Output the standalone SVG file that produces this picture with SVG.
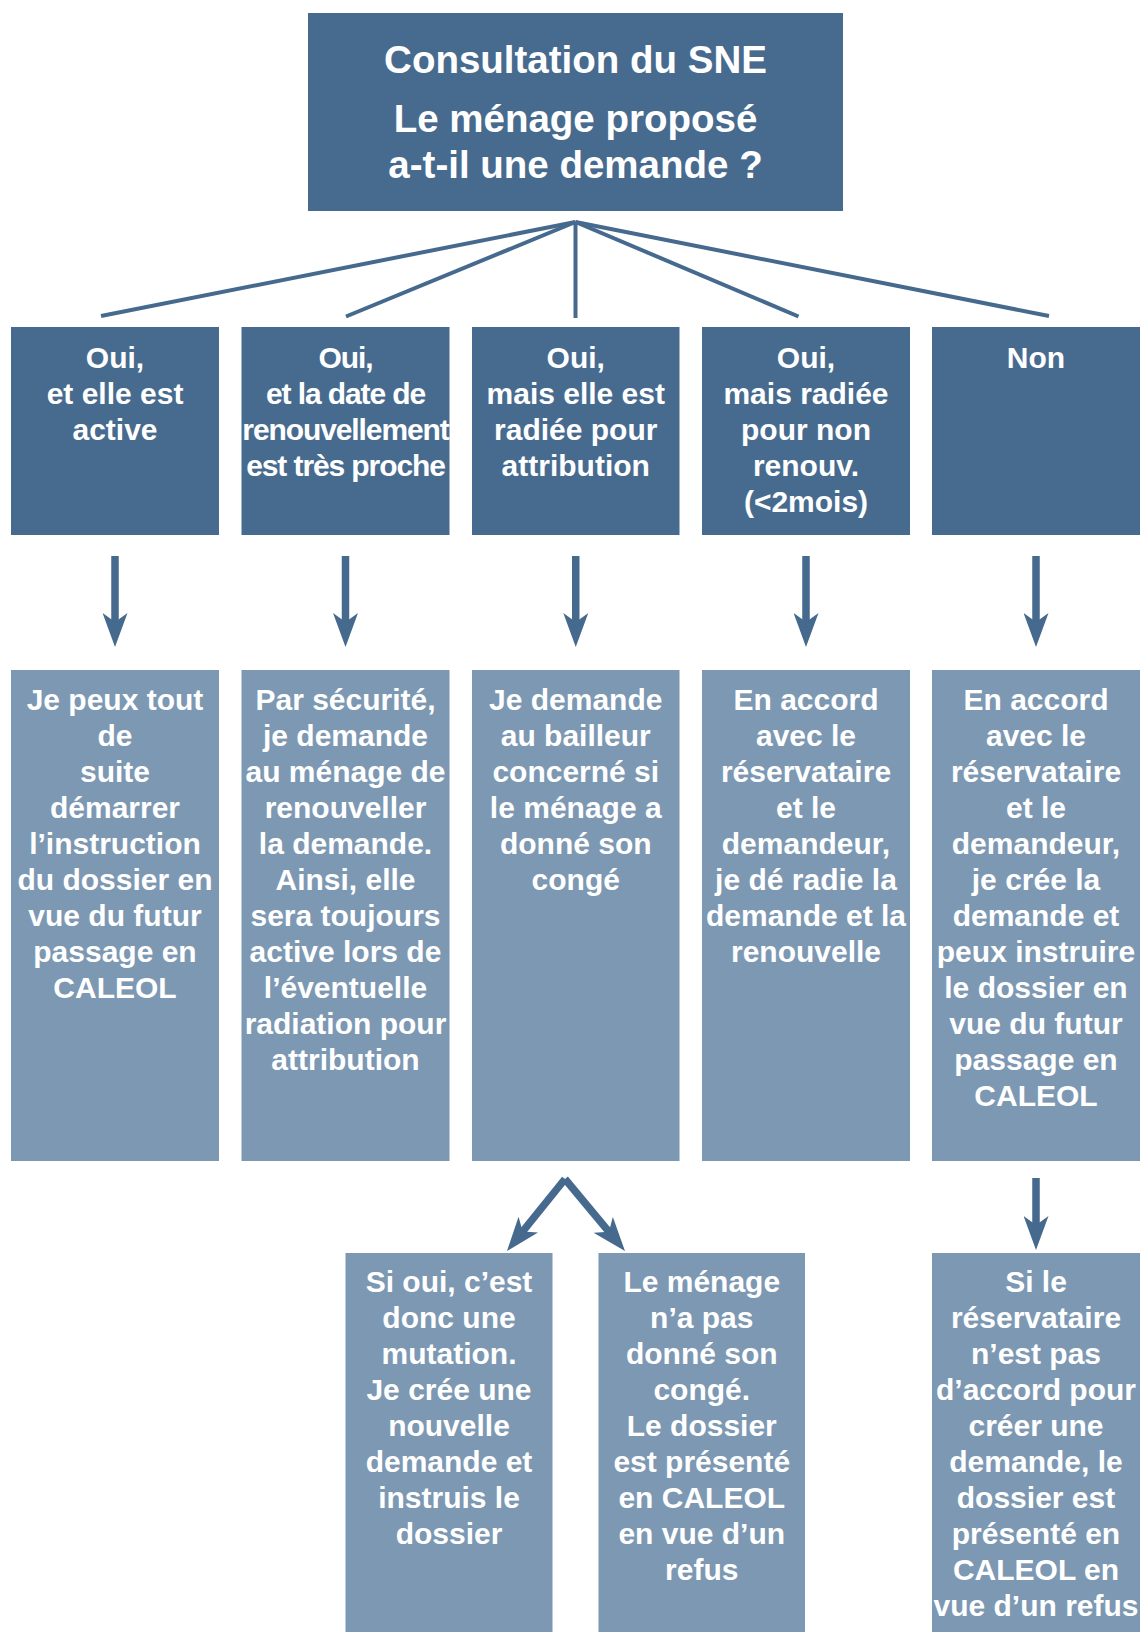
<svg xmlns="http://www.w3.org/2000/svg" width="1145" height="1632" viewBox="0 0 1145 1632">
<style>
.dark{fill:#476b8f}
.light{fill:#7d98b3}
.t{font-family:"Liberation Sans",Arial,sans-serif;font-weight:bold;font-size:30px;fill:#ffffff;text-anchor:middle}
.title{font-size:38.5px}
.cond{letter-spacing:-1.1px}
.fan{stroke:#46698e;stroke-width:4;fill:none}
.arr{stroke:#46698e;stroke-width:7.5;fill:none;marker-end:url(#ah)}
</style>
<defs>
<marker id="ah" markerUnits="userSpaceOnUse" markerWidth="34" markerHeight="25" viewBox="0 0 34 25" refX="22" refY="12.5" orient="auto">
<path d="M0,0 L34,12.5 L0,25 L9,12.5 Z" fill="#46698e"/>
</marker>
</defs>
<rect width="1145" height="1632" fill="#ffffff"/>

<g id="connectors">
<line class="fan" x1="575.5" y1="222" x2="101" y2="316"/>
<line class="fan" x1="575.5" y1="222" x2="346" y2="316.5"/>
<line class="fan" x1="575.5" y1="222" x2="575.5" y2="318"/>
<line class="fan" x1="575.5" y1="222" x2="798.5" y2="316.5"/>
<line class="fan" x1="575.5" y1="222" x2="1049" y2="316"/>
<line class="arr" x1="115" y1="556" x2="115" y2="635"/>
<line class="arr" x1="345.5" y1="556" x2="345.5" y2="635"/>
<line class="arr" x1="575.75" y1="556" x2="575.75" y2="635"/>
<line class="arr" x1="806" y1="556" x2="806" y2="635"/>
<line class="arr" x1="1036" y1="556" x2="1036" y2="635"/>
<line class="arr" x1="565" y1="1179" x2="514.5" y2="1241.7"/>
<line class="arr" x1="565" y1="1179" x2="617.3" y2="1241.8"/>
<line class="arr" x1="1036" y1="1178" x2="1036" y2="1238"/>
</g>

<g id="n-top">
<rect class="dark" x="308" y="13" width="535" height="198"/>
<text class="t title" x="575.5" y="73">Consultation du SNE</text>
<text class="t title" x="575.5" y="132">Le ménage proposé</text>
<text class="t title" x="575.5" y="178">a-t-il une demande ?</text>
</g>

<g id="n-r1c1">
<rect class="dark" x="11" y="327" width="208" height="208"/>
<text class="t" y="368"><tspan x="115">Oui,</tspan><tspan x="115" dy="36">et elle est</tspan><tspan x="115" dy="36">active</tspan></text>
</g>
<g id="n-r1c2">
<rect class="dark" x="241.5" y="327" width="208" height="208"/>
<text class="t cond" y="368"><tspan x="345.5">Oui,</tspan><tspan x="345.5" dy="36">et la date de</tspan><tspan x="345.5" dy="36">renouvellement</tspan><tspan x="345.5" dy="36">est très proche</tspan></text>
</g>
<g id="n-r1c3">
<rect class="dark" x="472" y="327" width="207.5" height="208"/>
<text class="t" y="368"><tspan x="575.75">Oui,</tspan><tspan x="575.75" dy="36">mais elle est</tspan><tspan x="575.75" dy="36">radiée pour</tspan><tspan x="575.75" dy="36">attribution</tspan></text>
</g>
<g id="n-r1c4">
<rect class="dark" x="702" y="327" width="208" height="208"/>
<text class="t" y="368"><tspan x="806">Oui,</tspan><tspan x="806" dy="36">mais radiée</tspan><tspan x="806" dy="36">pour non</tspan><tspan x="806" dy="36">renouv.</tspan><tspan x="806" dy="36">(&lt;2mois)</tspan></text>
</g>
<g id="n-r1c5">
<rect class="dark" x="932" y="327" width="208" height="208"/>
<text class="t" x="1036" y="368">Non</text>
</g>

<g id="n-r2c1">
<rect class="light" x="11" y="670" width="208" height="491"/>
<text class="t" y="710"><tspan x="115">Je peux tout</tspan><tspan x="115" dy="36">de</tspan><tspan x="115" dy="36">suite</tspan><tspan x="115" dy="36">démarrer</tspan><tspan x="115" dy="36">l’instruction</tspan><tspan x="115" dy="36">du dossier en</tspan><tspan x="115" dy="36">vue du futur</tspan><tspan x="115" dy="36">passage en</tspan><tspan x="115" dy="36">CALEOL</tspan></text>
</g>
<g id="n-r2c2">
<rect class="light" x="241.5" y="670" width="208" height="491"/>
<text class="t" y="710"><tspan x="345.5">Par sécurité,</tspan><tspan x="345.5" dy="36">je demande</tspan><tspan x="345.5" dy="36">au ménage de</tspan><tspan x="345.5" dy="36">renouveller</tspan><tspan x="345.5" dy="36">la demande.</tspan><tspan x="345.5" dy="36">Ainsi, elle</tspan><tspan x="345.5" dy="36">sera toujours</tspan><tspan x="345.5" dy="36">active lors de</tspan><tspan x="345.5" dy="36">l’éventuelle</tspan><tspan x="345.5" dy="36">radiation pour</tspan><tspan x="345.5" dy="36">attribution</tspan></text>
</g>
<g id="n-r2c3">
<rect class="light" x="472" y="670" width="207.5" height="491"/>
<text class="t" y="710"><tspan x="575.75">Je demande</tspan><tspan x="575.75" dy="36">au bailleur</tspan><tspan x="575.75" dy="36">concerné si</tspan><tspan x="575.75" dy="36">le ménage a</tspan><tspan x="575.75" dy="36">donné son</tspan><tspan x="575.75" dy="36">congé</tspan></text>
</g>
<g id="n-r2c4">
<rect class="light" x="702" y="670" width="208" height="491"/>
<text class="t" y="710"><tspan x="806">En accord</tspan><tspan x="806" dy="36">avec le</tspan><tspan x="806" dy="36">réservataire</tspan><tspan x="806" dy="36">et le</tspan><tspan x="806" dy="36">demandeur,</tspan><tspan x="806" dy="36">je dé radie la</tspan><tspan x="806" dy="36">demande et la</tspan><tspan x="806" dy="36">renouvelle</tspan></text>
</g>
<g id="n-r2c5">
<rect class="light" x="932" y="670" width="208" height="491"/>
<text class="t" y="710"><tspan x="1036">En accord</tspan><tspan x="1036" dy="36">avec le</tspan><tspan x="1036" dy="36">réservataire</tspan><tspan x="1036" dy="36">et le</tspan><tspan x="1036" dy="36">demandeur,</tspan><tspan x="1036" dy="36">je crée la</tspan><tspan x="1036" dy="36">demande et</tspan><tspan x="1036" dy="36">peux instruire</tspan><tspan x="1036" dy="36">le dossier en</tspan><tspan x="1036" dy="36">vue du futur</tspan><tspan x="1036" dy="36">passage en</tspan><tspan x="1036" dy="36">CALEOL</tspan></text>
</g>

<g id="n-r3a">
<rect class="light" x="345.5" y="1253" width="207" height="379"/>
<text class="t" y="1292"><tspan x="449">Si oui, c’est</tspan><tspan x="449" dy="36">donc une</tspan><tspan x="449" dy="36">mutation.</tspan><tspan x="449" dy="36">Je crée une</tspan><tspan x="449" dy="36">nouvelle</tspan><tspan x="449" dy="36">demande et</tspan><tspan x="449" dy="36">instruis le</tspan><tspan x="449" dy="36">dossier</tspan></text>
</g>
<g id="n-r3b">
<rect class="light" x="598.5" y="1253" width="206.5" height="379"/>
<text class="t" y="1292"><tspan x="701.75">Le ménage</tspan><tspan x="701.75" dy="36">n’a pas</tspan><tspan x="701.75" dy="36">donné son</tspan><tspan x="701.75" dy="36">congé.</tspan><tspan x="701.75" dy="36">Le dossier</tspan><tspan x="701.75" dy="36">est présenté</tspan><tspan x="701.75" dy="36">en CALEOL</tspan><tspan x="701.75" dy="36">en vue d’un</tspan><tspan x="701.75" dy="36">refus</tspan></text>
</g>
<g id="n-r3c">
<rect class="light" x="932" y="1253" width="208" height="379"/>
<text class="t" y="1292"><tspan x="1036">Si le</tspan><tspan x="1036" dy="36">réservataire</tspan><tspan x="1036" dy="36">n’est pas</tspan><tspan x="1036" dy="36">d’accord pour</tspan><tspan x="1036" dy="36">créer une</tspan><tspan x="1036" dy="36">demande, le</tspan><tspan x="1036" dy="36">dossier est</tspan><tspan x="1036" dy="36">présenté en</tspan><tspan x="1036" dy="36">CALEOL en</tspan><tspan x="1036" dy="36">vue d’un refus</tspan></text>
</g>
</svg>
